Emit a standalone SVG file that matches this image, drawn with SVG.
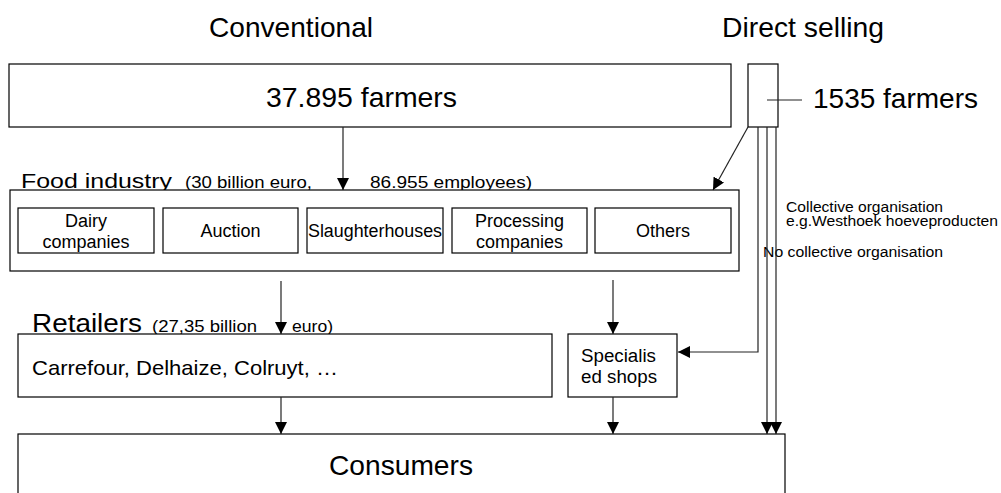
<svg xmlns="http://www.w3.org/2000/svg" width="1001" height="493" viewBox="0 0 1001 493">
<style>
text{font-family:"Liberation Sans",Arial,sans-serif;fill:#000}
.box{fill:#fff;stroke:#000;stroke-width:1.2}
.c{fill:none;stroke:#222;stroke-width:1.2}
.t28{font-size:28px}
.t18{font-size:18px}
.t16{font-size:16px}
.t14{font-size:14px}
.m{text-anchor:middle}
</style>
<defs>
<marker id="ah" markerUnits="userSpaceOnUse" markerWidth="12" markerHeight="12" refX="12" refY="6" orient="auto" viewBox="0 0 12 12">
<path d="M0,0 L12,6 L0,12 z" fill="#000"/>
</marker>
</defs>
<rect width="1001" height="493" fill="#fff"/>

<g id="titles">
<text class="t28" x="209" y="37" textLength="164" lengthAdjust="spacingAndGlyphs">Conventional</text>
<text class="t28" x="722" y="37" textLength="162" lengthAdjust="spacingAndGlyphs">Direct selling</text>
</g>

<g id="farmers">
<rect class="box" x="9" y="64" width="722" height="63"/>
<text class="t28" x="266" y="107" textLength="191" lengthAdjust="spacingAndGlyphs">37.895 farmers</text>
</g>

<g id="direct-farmers">
<rect class="box" x="748" y="64" width="30" height="63"/>
<line class="c" x1="767" y1="100" x2="802" y2="100"/>
<text class="t28" x="813" y="108" textLength="165" lengthAdjust="spacingAndGlyphs">1535 farmers</text>
</g>

<g id="food-industry">
<text x="21" y="188" style="font-size:21px" textLength="151" lengthAdjust="spacingAndGlyphs">Food industry</text>
<text class="t16" x="185" y="188" textLength="127" lengthAdjust="spacingAndGlyphs">(30 billion euro,</text>
<text class="t16" x="370" y="188" textLength="162" lengthAdjust="spacingAndGlyphs">86.955  employees)</text>
<rect class="box" x="10" y="190" width="729" height="81"/>
</g>

<g id="dairy">
<rect class="box" x="18" y="208" width="136" height="45"/>
<text class="t18 m" x="86" y="227">Dairy</text>
<text class="t18 m" x="86" y="248">companies</text>
</g>
<g id="auction">
<rect class="box" x="163" y="208" width="135" height="45"/>
<text class="t18 m" x="230.5" y="237">Auction</text>
</g>
<g id="slaughterhouses">
<rect class="box" x="307" y="208" width="136" height="45"/>
<text class="t18 m" x="375" y="237" textLength="134" lengthAdjust="spacingAndGlyphs">Slaughterhouses</text>
</g>
<g id="processing">
<rect class="box" x="452" y="208" width="135" height="45"/>
<text class="t18 m" x="519.5" y="227">Processing</text>
<text class="t18 m" x="519.5" y="248">companies</text>
</g>
<g id="others">
<rect class="box" x="595" y="208" width="136" height="45"/>
<text class="t18 m" x="663" y="237">Others</text>
</g>

<g id="collective-labels">
<text class="t14" x="786" y="212" textLength="157" lengthAdjust="spacingAndGlyphs">Collective organisation</text>
<text class="t14" x="786" y="226" textLength="212" lengthAdjust="spacingAndGlyphs">e.g.Westhoek hoeveproducten</text>
<text class="t14" x="763" y="257" textLength="180" lengthAdjust="spacingAndGlyphs">No collective organisation</text>
</g>

<g id="retailers">
<text x="32" y="332" style="font-size:26px" textLength="110" lengthAdjust="spacingAndGlyphs">Retailers</text>
<text class="t16" x="152" y="332" textLength="105" lengthAdjust="spacingAndGlyphs">(27,35 billion</text>
<text class="t16" x="292" y="332" textLength="41" lengthAdjust="spacingAndGlyphs">euro)</text>
<rect class="box" x="18" y="334" width="534" height="63"/>
<text x="32" y="375" style="font-size:21px" textLength="306" lengthAdjust="spacingAndGlyphs">Carrefour, Delhaize, Colruyt, …</text>
</g>

<g id="specialised-shops">
<rect class="box" x="568" y="334" width="109" height="63"/>
<text class="t18" x="581" y="362" textLength="75" lengthAdjust="spacingAndGlyphs">Specialis</text>
<text class="t18" x="581" y="383" textLength="76" lengthAdjust="spacingAndGlyphs">ed shops</text>
</g>

<g id="consumers">
<rect class="box" x="18" y="434" width="767" height="70"/>
<text class="t28" x="329" y="475" textLength="144" lengthAdjust="spacingAndGlyphs">Consumers</text>
</g>

<g id="connectors">
<line class="c" x1="343" y1="127" x2="343" y2="190" marker-end="url(#ah)"/>
<line class="c" x1="748" y1="127" x2="713" y2="190" marker-end="url(#ah)"/>
<polyline class="c" points="758,127 758,352 678,352" marker-end="url(#ah)"/>
<line class="c" x1="767" y1="127" x2="767" y2="434" marker-end="url(#ah)"/>
<line class="c" x1="776" y1="127" x2="776" y2="434" marker-end="url(#ah)"/>
<line class="c" x1="281" y1="281" x2="281" y2="334" marker-end="url(#ah)"/>
<line class="c" x1="281" y1="397" x2="281" y2="434" marker-end="url(#ah)"/>
<line class="c" x1="613" y1="280" x2="613" y2="334" marker-end="url(#ah)"/>
<line class="c" x1="613" y1="397" x2="613" y2="434" marker-end="url(#ah)"/>
</g>
</svg>
